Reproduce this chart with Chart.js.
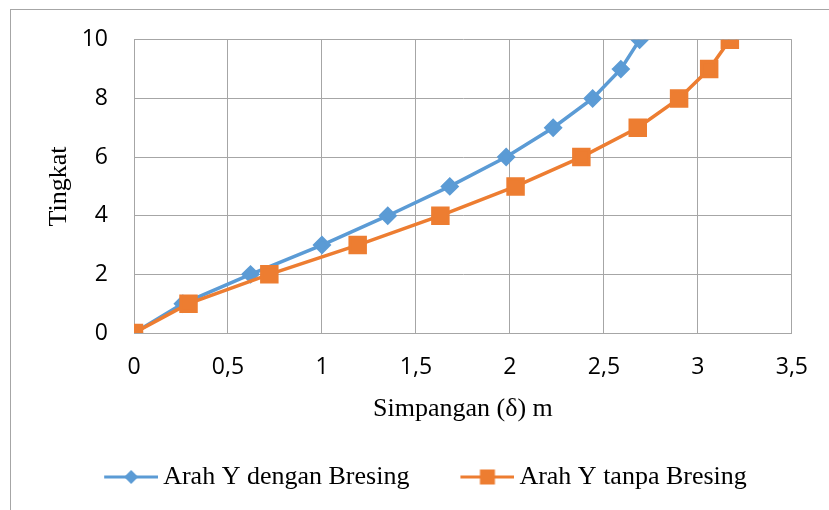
<!DOCTYPE html>
<html>
<head>
<meta charset="utf-8">
<script src="https://cdn.jsdelivr.net/npm/chart.js@4"></script>
<style>
  body { margin: 0; background: #fff; }
  #frame { position: absolute; left: 10px; top: 9px; width: 900px; height: 600px;
           border-left: 1px solid #a6a6a6; border-top: 1px solid #a6a6a6; }
  #wrap { position: absolute; left: 0; top: 0; width: 829px; height: 510px; }
</style>
</head>
<body>
<div id="frame"></div>
<div id="wrap"><canvas id="myChart" width="829" height="510"></canvas></div>
<script>
const tingkat = [0, 1, 2, 3, 4, 5, 6, 7, 8, 9, 10];
const denganBresing = [0, 0.26, 0.62, 1.0, 1.35, 1.68, 1.98, 2.23, 2.44, 2.59, 2.69];
const tanpaBresing = [0, 0.29, 0.72, 1.19, 1.63, 2.03, 2.38, 2.68, 2.9, 3.06, 3.17];
const seriesNames = ['Arah Y dengan Bresing', 'Arah Y tanpa Bresing'];

const blue = '#5b9bd5';
const orange = '#ed7d31';

const toPoints = xs => xs.map((x, i) => ({x: x, y: tingkat[i]}));

// legend swatch: short line with the marker in the middle
function swatch(color, style) {
    const c = document.createElement('canvas');
    c.width = 69; c.height = 20;
    const g = c.getContext('2d');
    g.strokeStyle = color; g.fillStyle = color; g.lineWidth = 3;
    g.beginPath(); g.moveTo(15, 10); g.lineTo(69, 10); g.stroke();
    const cx = 42;
    if (style === 'diamond') {
        g.beginPath();
        g.moveTo(cx, 3); g.lineTo(cx + 7, 10); g.lineTo(cx, 17); g.lineTo(cx - 7, 10);
        g.closePath(); g.fill();
    } else {
        g.fillRect(cx - 7.5, 2.5, 15, 15);
    }
    return c;
}
const swatches = [swatch(blue, 'diamond'), swatch(orange, 'square')];

new Chart(document.getElementById('myChart'), {
    type: 'line',
    data: {
        datasets: [{
            label: seriesNames[0],
            data: toPoints(denganBresing),
            borderColor: blue,
            backgroundColor: blue,
            borderWidth: 3.5,
            pointStyle: 'rectRot',
            pointRadius: 7,
            pointHoverRadius: 7,
            order: 2,
            tension: 0
        }, {
            label: seriesNames[1],
            data: toPoints(tanpaBresing),
            borderColor: orange,
            backgroundColor: orange,
            borderWidth: 3.5,
            pointStyle: 'rect',
            pointRadius: 10.6,
            pointHoverRadius: 10.6,
            order: 1,
            tension: 0
        }]
    },
    options: {
        responsive: false,
        animation: false,
        layout: { padding: { left: 44, right: 29, top: 39, bottom: 10 } },
        scales: {
            x: {
                type: 'linear',
                min: 0, max: 3.5,
                grid: { color: '#a6a6a6', drawTicks: false },
                border: { color: '#a6a6a6' },
                ticks: {
                    stepSize: 0.5,
                    padding: 21,
                    color: '#000',
                    font: { family: 'Open Sans', size: 23 },
                    callback: v => String(v).replace('.', ',')
                },
                title: {
                    display: true,
                    text: 'Simpangan (δ) m',
                    color: '#000',
                    font: { family: 'Liberation Serif', size: 26 },
                    padding: { top: 0, bottom: -5 }
                },
                afterFit: s => { s.height = 87; }
            },
            y: {
                min: 0, max: 10,
                grid: { color: '#a6a6a6', drawTicks: false },
                border: { color: '#a6a6a6' },
                ticks: {
                    stepSize: 2,
                    padding: 26,
                    color: '#000',
                    font: { family: 'Open Sans', size: 23 }
                },
                title: {
                    display: true,
                    text: 'Tingkat',
                    color: '#000',
                    font: { family: 'Liberation Serif', size: 26 },
                    padding: { top: 0, bottom: 0 }
                },
                afterFit: s => { s.width = 90; }
            }
        },
        plugins: {
            legend: {
                position: 'bottom',
                labels: {
                    usePointStyle: true,
                    pointStyleWidth: 53,
                    padding: 44,
                    color: '#000',
                    font: { family: 'Liberation Serif', size: 26 },
                    generateLabels: chart => chart.data.datasets.map((ds, i) => ({
                        text: ds.label,
                        pointStyle: swatches[i],
                        fillStyle: ds.borderColor,
                        strokeStyle: ds.borderColor,
                        lineWidth: 0,
                        fontColor: '#000',
                        datasetIndex: i
                    }))
                }
            },
            tooltip: { enabled: false }
        }
    }
});
</script>
</body>
</html>
